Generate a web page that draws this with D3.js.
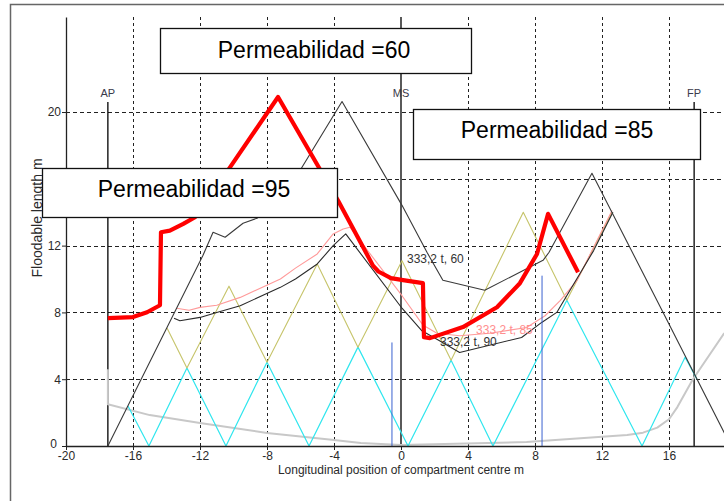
<!DOCTYPE html>
<html>
<head>
<meta charset="utf-8">
<script src="https://cdn.jsdelivr.net/npm/d3@7"></script>
<style>
  body { margin: 0; background: #fff; }
  svg { display: block; font-family: "Liberation Sans", Arial, sans-serif; }
</style>
</head>
<body>
<svg id="chart" width="724" height="501"></svg>
<script>
// Axis ticks and grid
const xTicks = [-20, -16, -12, -8, -4, 0, 4, 8, 12, 16];
const yTicks = [0, 4, 8, 12, 16, 20];
const xGrid = [-16, -12, -8, -4, 4, 8, 12, 16];
const yGrid = [4, 8, 12, 16, 20];

// Perpendiculars and midship stations (m)
const stationNames = ["AP", "MS", "FP"];
const stationX = [-17.5, 0, 17.5];

// Floodable length curves: [position m, floodable length m]
const curve60 = [[-17.5,0],[-11.82,11.42],[-11.22,12.8],[-10.5,12.5],[-9.43,13.34],[-8.6,13.64],[-6.9,15.0],[-5.91,16.69],[-3.52,20.63],[0.06,14.41],[1.55,11.6],[2.5,9.93],[5.0,9.33],[8.48,11.12],[8.84,11.6],[11.4,16.33],[15.58,8.13],[19.7,0]];
const curve90 = [[-13.55,7.65],[-13.2,7.5],[-12.0,7.7],[-11.0,8.0],[-9.6,8.4],[-7.2,9.5],[-6.3,10.0],[-5.0,10.9],[-4.05,12.0],[-3.3,12.7],[0.06,8.25],[1.25,6.9],[2.3,6.3],[3.5,5.6],[7.2,6.5],[8.4,7.4],[9.3,8.0],[11.5,11.7],[12.65,14.0]];
const curve85 = [[-13.4,8.25],[-12.65,8.13],[-12.0,8.3],[-11.0,8.43],[-9.6,8.9],[-7.2,10.0],[-6.3,10.65],[-5.0,11.5],[-4.05,12.7],[-3.45,13.0],[-3.05,13.1],[0.06,9.0],[1.3,7.25],[2.15,6.75],[3.5,6.6],[5.3,6.75],[7.5,7.1],[8.6,7.8],[9.5,8.7],[10.5,9.9],[12.6,14.1]];
const curve95 = [[-17.5,7.66],[-16.0,7.72],[-15.16,8.01],[-14.39,8.43],[-14.33,12.8],[-13.8,12.9],[-13.0,13.3],[-12.3,13.7],[-10.2,16.7],[-7.34,20.9],[-3.76,14.7],[-1.67,10.8],[-1.35,10.45],[-0.6,10.05],[0.12,9.93],[1.31,9.75],[1.37,6.52],[1.73,6.46],[3.7,7.12],[5.73,8.31],[7.1,9.75],[8.12,11.5],[8.78,13.9],[10.57,10.4]];

// Compartment triangles
const triangleOlive = [[-13.97,7.06],[-12.78,4.67],[-10.27,9.57],[-8.0,5.02],[-5.0,10.9],[-2.57,5.92],[0.06,11.1],[2.99,5.14],[7.3,14.0],[9.9,8.73],[12.6,14.0]];
const triangleCyan = [[-16.3,2.39],[-15.05,0],[-12.78,4.67],[-10.45,0],[-8.0,5.02],[-5.49,0],[-2.57,5.92],[0.42,0],[2.99,5.14],[5.49,0],[9.9,8.73],[14.39,0],[16.96,5.32],[17.67,4.0]];

// Light reference curve
const curveGrey = [[-17.5,4.6],[-17.5,2.5],[-15,1.85],[-12,1.38],[-8,0.78],[-4,0.36],[-2.4,0.18],[0,0.06],[7.5,0.24],[13.5,0.66],[14.45,0.8],[15.3,1.1],[16.0,1.6],[16.5,2.33],[17.4,3.95],[19.3,6.76]];

// Vertical markers: [position m, height m]
const markers = [[-0.54, 6.2], [8.42, 10.2]];

// Curve annotations: text and anchor [position m, length m]
const curveLabels = ["333,2 t, 60", "333,2 t, 90", "333,2 t, 85"];
const curveLabelAt = [[0.36, 10.94], [2.33, 5.98], [4.48, 6.7]];

// Permeability captions
const permeabilities = [60, 85, 95];

const svg = d3.select("#chart");
const x = d3.scaleLinear().domain([-20, 20]).range([66, 736]);
const y = d3.scaleLinear().domain([0, 25.69]).range([446, 17]);
const line = d3.line().x(d => x(d[0])).y(d => y(d[1]));

svg.append("rect").attr("width", 724).attr("height", 501).attr("fill", "#fff");

// outer frame
svg.append("path").attr("d", "M10.5,501 V4.5 H724")
  .attr("fill", "none").attr("stroke", "#666").attr("stroke-width", 1.5);

// grid
const grid = svg.append("g").attr("stroke", "#222").attr("stroke-width", 1).attr("fill", "none");
grid.selectAll(".gx").data(xGrid).join("line")
  .attr("x1", d => Math.round(x(d)) + 0.5).attr("x2", d => Math.round(x(d)) + 0.5)
  .attr("y1", y(25.69)).attr("y2", y(0))
  .attr("stroke-dasharray", "3,3");
grid.selectAll(".gy").data(yGrid).join("line")
  .attr("x1", x(-20)).attr("x2", 724)
  .attr("y1", d => Math.round(y(d)) + 0.5).attr("y2", d => Math.round(y(d)) + 0.5)
  .attr("stroke-dasharray", "4,3");

// stations
const st = svg.append("g");
stationX.forEach((sx, i) => {
  const top = stationNames[i] === "MS" ? y(25.69) : y(20.6);
  st.append("line")
    .attr("x1", x(sx)).attr("x2", x(sx)).attr("y1", top).attr("y2", y(0))
    .attr("stroke", "#000").attr("stroke-width", 1.3);
  st.append("text")
    .attr("x", x(sx)).attr("y", y(20.9))
    .attr("text-anchor", "middle").attr("font-size", 11).attr("fill", "#3a3a4a")
    .text(stationNames[i]);
});

// curves
function draw(data, color, width) {
  svg.append("path").datum(data).attr("d", line)
    .attr("fill", "none").attr("stroke", color).attr("stroke-width", width)
    .attr("stroke-linejoin", "round");
}
draw(curveGrey, "#c8c8c8", 2);
draw(triangleCyan, "#2fe6ee", 1.2);
draw(triangleOlive, "#c6c46a", 1.1);
draw(curve85, "#ff9a9a", 1.1);
draw(curve90, "#2a2a2a", 1.1);
draw(curve60, "#3a3a3a", 1.1);

// markers
svg.append("g").selectAll("line").data(markers).join("line")
  .attr("x1", d => x(d[0])).attr("x2", d => x(d[0]))
  .attr("y1", d => y(d[1])).attr("y2", y(0))
  .attr("stroke", "#3a62d0").attr("stroke-width", 1);

draw(curve95, "#ff0000", 4.2);

// axes
const yAxis = svg.append("g").attr("transform", `translate(${x(-20)},0)`)
  .call(d3.axisLeft(y).tickValues(yTicks).tickSize(4).tickSizeOuter(0).tickPadding(1).tickFormat(d3.format("d")));
const xAxis = svg.append("g").attr("transform", `translate(0,${y(0)})`)
  .call(d3.axisBottom(x).tickValues(xTicks).tickSize(4).tickSizeOuter(0).tickPadding(1).tickFormat(d3.format("d")));
[yAxis, xAxis].forEach(a => {
  a.select(".domain").attr("stroke", "#222").attr("stroke-width", 1.3);
  a.selectAll(".tick line").attr("stroke", "#222");
  a.selectAll("text").attr("font-size", 12).attr("fill", "#2a2a2a")
    .attr("font-family", "'Liberation Sans', Arial, sans-serif");
});
xAxis.selectAll(".tick text").text(d => d < 0 ? "-" + Math.abs(d) : d);
// keep the corner "0" clear of the "-20" below it
yAxis.selectAll(".tick text").filter(d => d === 0).attr("x", -9).attr("dy", "0.1em");

svg.append("text").attr("x", x(0)).attr("y", 474)
  .attr("text-anchor", "middle").attr("font-size", 12).attr("fill", "#2a2a2a")
  .text("Longitudinal position of compartment centre  m");
svg.append("text").attr("transform", "translate(42,218) rotate(-90)")
  .attr("text-anchor", "middle").attr("font-size", 14).attr("fill", "#2a2a2a")
  .text("Floodable length  m");

// curve annotations
const labelColors = ["#333", "#333", "#ff8f8f"];
curveLabels.forEach((t, i) => {
  svg.append("text").attr("x", x(curveLabelAt[i][0])).attr("y", y(curveLabelAt[i][1]))
    .attr("font-size", 12).attr("fill", labelColors[i]).text(t);
});

// permeability captions
const boxes = [
  { x0: 160, y0: 28, w: 311, h: 45, tx: 314, ty: 58 },
  { x0: 413, y0: 109, w: 287, h: 50, tx: 557, ty: 138 },
  { x0: 42, y0: 168, w: 295, h: 49, tx: 194, ty: 197 }
];
permeabilities.forEach((p, i) => {
  const b = boxes[i];
  svg.append("rect").attr("x", b.x0 + 0.5).attr("y", b.y0 + 0.5).attr("width", b.w).attr("height", b.h)
    .attr("fill", "#fff").attr("stroke", "#111").attr("stroke-width", 1.3);
  svg.append("text").attr("x", b.tx).attr("y", b.ty)
    .attr("text-anchor", "middle").attr("font-size", 23).attr("fill", "#000")
    .text("Permeabilidad =" + p);
});
</script>
</body>
</html>
